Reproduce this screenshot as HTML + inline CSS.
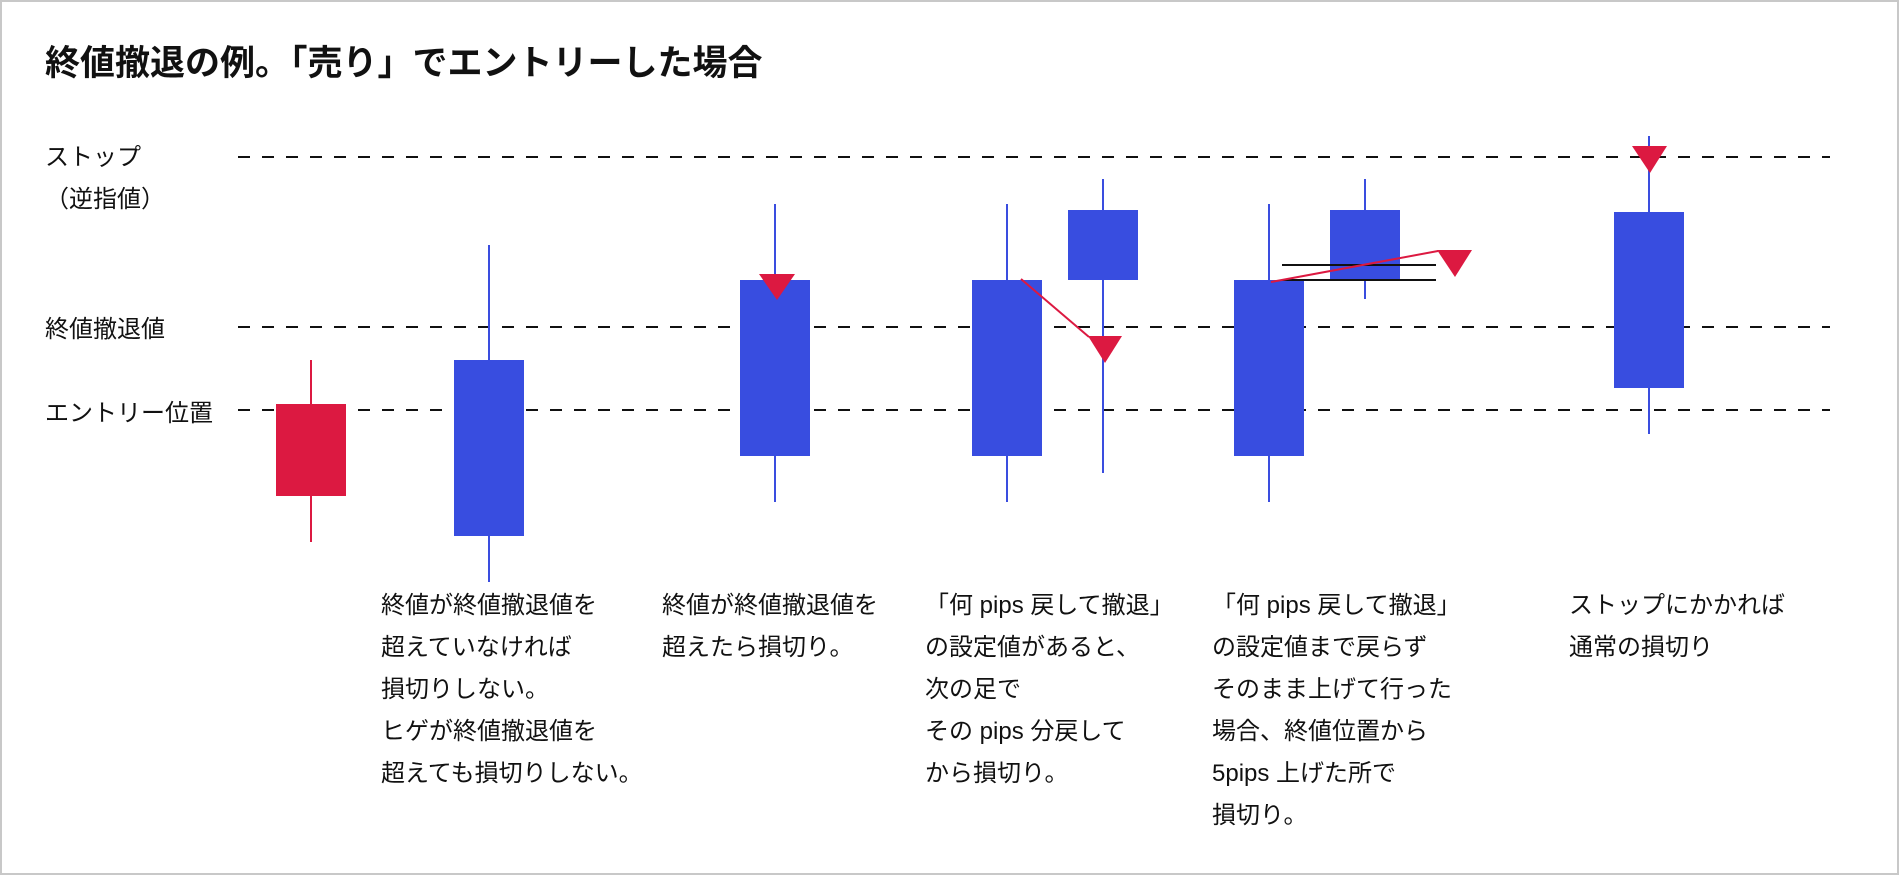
<!DOCTYPE html>
<html><head><meta charset="utf-8"><style>
html,body{margin:0;padding:0;background:#fff;}
body{width:1900px;height:876px;position:relative;overflow:hidden;font-family:"Liberation Sans","Noto Sans CJK JP",sans-serif;color:#111;}
.t{position:absolute;font-size:24px;line-height:42px;white-space:nowrap;}
.lab{position:absolute;font-size:24px;line-height:30px;white-space:nowrap;}
h1{position:absolute;left:45px;top:42px;margin:0;font-size:35px;line-height:44px;font-weight:bold;white-space:nowrap;}
svg{position:absolute;left:0;top:0;}
</style></head><body>
<svg width="1900" height="876">
<rect x="1" y="1" width="1897" height="873" fill="none" stroke="#c8c8c8" stroke-width="2"/>
<g stroke="#111" stroke-width="2" stroke-dasharray="12 12">
<line x1="238" y1="157" x2="1830" y2="157"/>
<line x1="238" y1="327" x2="1830" y2="327"/>
<line x1="238" y1="410" x2="1830" y2="410"/>
</g>
<line x1="311" y1="360" x2="311" y2="542" stroke="#dc1941" stroke-width="2"/>
<rect x="276" y="404" width="70" height="92" fill="#dc1941"/>
<g stroke="#3a4ddf" stroke-width="2">
<line x1="489" y1="245" x2="489" y2="582"/>
<line x1="775" y1="204" x2="775" y2="502"/>
<line x1="1007" y1="204" x2="1007" y2="502"/>
<line x1="1103" y1="179" x2="1103" y2="473"/>
<line x1="1269" y1="204" x2="1269" y2="502"/>
<line x1="1365" y1="179" x2="1365" y2="299"/>
<line x1="1649" y1="136" x2="1649" y2="434"/>
</g>
<g fill="#384de0">
<rect x="454" y="360" width="70" height="176"/>
<rect x="740" y="280" width="70" height="176"/>
<rect x="972" y="280" width="70" height="176"/>
<rect x="1068" y="210" width="70" height="70"/>
<rect x="1234" y="280" width="70" height="176"/>
<rect x="1330" y="210" width="70" height="70"/>
<rect x="1614" y="212" width="70" height="176"/>
</g>
<g stroke="#111" stroke-width="2">
<line x1="1282" y1="265" x2="1436" y2="265"/>
<line x1="1282" y1="280" x2="1436" y2="280"/>
</g>
<g stroke="#dc1941" stroke-width="2">
<line x1="1021" y1="279" x2="1089" y2="337"/>
<line x1="1271" y1="282" x2="1438" y2="251"/>
</g>
<g fill="#dc1941">
<polygon points="759,274 795,274 777,300"/>
<polygon points="1088,336 1122,336 1105,363"/>
<polygon points="1437,250 1472,250 1455,277"/>
<polygon points="1632,146 1667,146 1650,173"/>
</g>
</svg>
<h1>終値撤退の例。「売り」でエントリーした場合</h1>
<div class="lab" style="left:45px;top:143px">ストップ</div>
<div class="lab" style="left:45px;top:185px">（逆指値）</div>
<div class="lab" style="left:45px;top:315px">終値撤退値</div>
<div class="lab" style="left:45px;top:399px">エントリー位置</div>
<div class="t" style="left:381px;top:585px">終値が終値撤退値を<br>超えていなければ<br>損切りしない。<br>ヒゲが終値撤退値を<br>超えても損切りしない。</div>
<div class="t" style="left:662px;top:585px">終値が終値撤退値を<br>超えたら損切り。</div>
<div class="t" style="left:925px;top:585px">「何 pips 戻して撤退」<br>の設定値があると、<br>次の足で<br>その pips 分戻して<br>から損切り。</div>
<div class="t" style="left:1212px;top:585px">「何 pips 戻して撤退」<br>の設定値まで戻らず<br>そのまま上げて行った<br>場合、終値位置から<br>5pips 上げた所で<br>損切り。</div>
<div class="t" style="left:1569px;top:585px">ストップにかかれば<br>通常の損切り</div>
</body></html>
